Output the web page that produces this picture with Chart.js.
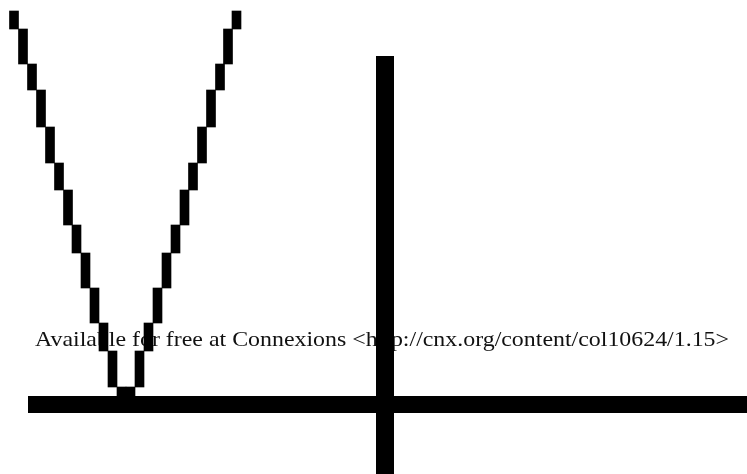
<!DOCTYPE html>
<html>
<head>
<meta charset="utf-8">
<script src="https://cdn.jsdelivr.net/npm/chart.js@4/dist/chart.umd.min.js"></script>
<style>
  html, body { margin: 0; padding: 0; background: #fff; }
  #wrap { width: 747px; height: 474px; position: relative; }
</style>
</head>
<body>
<div id="wrap"><canvas id="c" width="747" height="474"></canvas></div>
<script>
// Plot units: origin at the crossing of the two axes, y upwards.
// Column centres of the stepped V-shaped curve (x values)
const stepX = [-371, -362, -353, -344, -335, -326, -317, -308.5, -299.5, -290.5, -281.5, -272.5,
               -263.5, -254.5,
               -245.5, -236.5, -227.5, -218.5, -209.5, -200.5, -192, -183, -174, -165, -157, -148.5];
// Lower and upper y value of each column of the curve
const stepLow  = [375.5, 340.5, 314.5, 277.5, 241.5, 214.5, 179.5, 151.5, 116.5, 81.5, 53.5, 17.5,
                  0, 0,
                  17.5, 53.5, 81.5, 116.5, 151.5, 179.5, 214.5, 241.5, 277.5, 314.5, 340.5, 375.5];
const stepHigh = [393.5, 375.5, 340.5, 314.5, 277.5, 241.5, 214.5, 179.5, 151.5, 116.5, 81.5, 53.5,
                  17.5, 17.5,
                  53.5, 81.5, 116.5, 151.5, 179.5, 214.5, 241.5, 277.5, 314.5, 340.5, 375.5, 393.5];
// Extent of the x axis and the y axis lines
const xAxisFrom = -357, xAxisTo = 362;
const yAxisFrom = -69.5, yAxisTo = 348.5;
// Visible window of the plot
const xMin = -385, xMax = 362, yMin = -69.5, yMax = 404.5;
const footer = 'Available for free at Connexions <http://cnx.org/content/col10624/1.15>';

const stepData = stepX.map((x, i) => ({ x: x, y: [stepLow[i], stepHigh[i]] }));

const footerPlugin = {
  id: 'footerText',
  beforeDraw(chart) {
    const ctx = chart.ctx;
    ctx.save();
    ctx.font = '21px "Liberation Serif", "DejaVu Serif", serif';
    ctx.fillStyle = '#111';
    ctx.textBaseline = 'alphabetic';
    const w = ctx.measureText(footer).width;
    const target = 694;
    ctx.translate(35, 346);
    ctx.scale(target / w, 1);
    ctx.fillText(footer, 0, 0);
    ctx.restore();
  }
};

new Chart(document.getElementById('c'), {
  type: 'bar',
  data: {
    datasets: [
      {
        type: 'bar',
        data: stepData,
        backgroundColor: '#000',
        borderWidth: 0,
        barThickness: 9,
        grouped: false
      },
      {
        type: 'line',
        data: [{ x: xAxisFrom, y: 0 }, { x: xAxisTo, y: 0 }],
        borderColor: '#000',
        borderWidth: 17,
        borderCapStyle: 'butt',
        pointRadius: 0,
        fill: false
      },
      {
        type: 'line',
        data: [{ x: 0, y: yAxisTo }, { x: 0, y: yAxisFrom }],
        borderColor: '#000',
        borderWidth: 18,
        borderCapStyle: 'butt',
        pointRadius: 0,
        fill: false
      }
    ]
  },
  options: {
    responsive: false,
    animation: false,
    devicePixelRatio: 1,
    layout: { padding: 0 },
    plugins: { legend: { display: false }, tooltip: { enabled: false }, title: { display: false } },
    scales: {
      x: { type: 'linear', min: xMin, max: xMax, display: false, offset: false },
      y: { type: 'linear', min: yMin, max: yMax, display: false }
    }
  },
  plugins: [footerPlugin]
});
</script>
</body>
</html>
